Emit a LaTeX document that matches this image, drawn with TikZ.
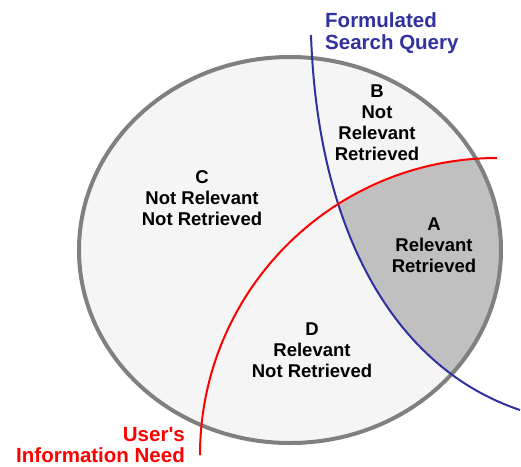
\documentclass[tikz,border=0pt]{standalone}
\usepackage{fontspec}
\setmainfont{Liberation Sans}
\definecolor{queryblue}{RGB}{48,48,158}
\definecolor{collgray}{RGB}{128,128,128}
\definecolor{collfill}{RGB}{245,245,245}
\definecolor{hitgray}{RGB}{192,192,192}

\begin{document}
\begin{tikzpicture}[
    x=1pt, y=-1pt,
    region/.style={align=center, inner sep=0pt,
                   font=\bfseries\fontsize{18.5}{21}\selectfont},
    curvetag/.style={inner sep=0pt,
                     font=\bfseries\fontsize{20.5}{21.5}\selectfont},
    query/.style={draw=queryblue, line width=2pt},
    need/.style={draw=red, line width=2pt},
]
  \useasboundingbox (0,0) rectangle (521,466);

  % Document collection
  \fill[collfill] (290,250) ellipse[x radius=211, y radius=193];

  % Relevant and retrieved part
  \begin{scope}
    \clip (290,250) ellipse[x radius=211, y radius=193];
    \clip (497,455) circle[radius=297];
    \fill[hitgray] (311,35) .. controls (318,240) and (400,370) .. (520,410)
      -- (560,410) -- (560,0) -- (311,0) -- cycle;
  \end{scope}
  \draw[collgray, line width=4pt] (290,250) ellipse[x radius=211, y radius=193];

  % Query and need boundaries
  \draw[query] (311,35) .. controls (318,240) and (400,370) .. (520,410);
  \draw[need] (200,455) arc[start angle=180, end angle=270, radius=297];

  % Region labels
  \node[region] (A) at (434,245) {A\\Relevant\\Retrieved};
  \node[region] (B) at (377,123) {B\\Not\\Relevant\\Retrieved};
  \node[region] (C) at (202,198) {C\\Not Relevant\\Not Retrieved};
  \node[region] (D) at (312,350) {D\\Relevant\\Not Retrieved};

  % Curve labels
  \node[curvetag, queryblue, align=left, anchor=west] (query)
    at (325,33) {Formulated\\Search Query};
  \node[curvetag, red, align=right, anchor=east] (need)
    at (185,445) {User\textquotesingle s\\Information Need};
\end{tikzpicture}
\end{document}
